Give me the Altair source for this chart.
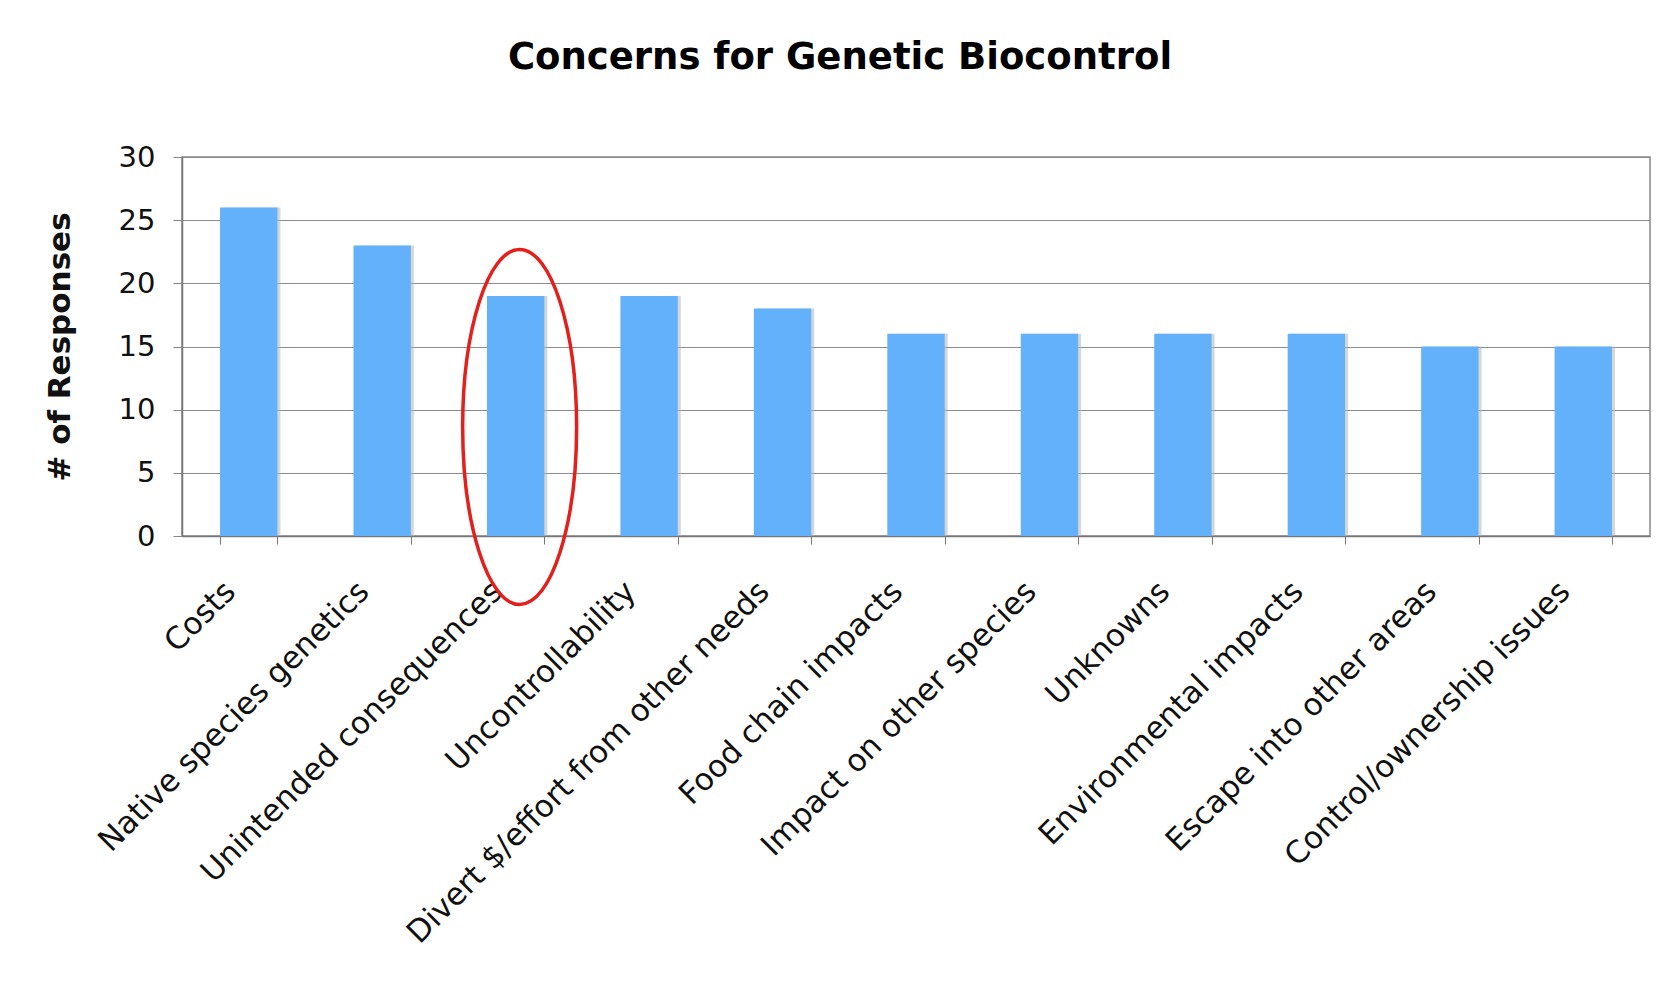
import altair as alt
import pandas as pd

categories = [
    "Costs",
    "Native species genetics",
    "Unintended consequences",
    "Uncontrollability",
    "Divert $/effort from other needs",
    "Food chain impacts",
    "Impact on other species",
    "Unknowns",
    "Environmental impacts",
    "Escape into other areas",
    "Control/ownership issues",
]
responses = [26, 23, 19, 19, 18, 16, 16, 16, 16, 15, 15]
highlighted = ["Unintended consequences"]

df = pd.DataFrame({"concern": categories, "responses": responses})
hl = pd.DataFrame({"concern": highlighted})

W, H = 1468, 379
FONT = "DejaVu Sans"

x_enc = alt.X(
    "concern:N",
    sort=categories,
    scale=alt.Scale(paddingInner=0.57, paddingOuter=0.285),
    axis=alt.Axis(
        title=None,
        labelAngle=-45,
        labelAlign="right",
        labelBaseline="top",
        labelFontSize=31,
        labelFont=FONT,
        labelColor="#111111",
        labelPadding=32,
        labelOffset=-29,
        labelOverlap=False,
        labelLimit=1000,
        tickBand="extent",
        tickSize=8,
        tickColor="#777777",
        domainColor="#777777",
        domainWidth=1.5,
    ),
)

y_enc = alt.Y(
    "responses:Q",
    scale=alt.Scale(domain=[0, 30], nice=False),
    axis=alt.Axis(
        title="# of Responses",
        titleFont=FONT,
        titleFontSize=31,
        titleFontWeight="bold",
        titleColor="#111111",
        titlePadding=42,
        values=[0, 5, 10, 15, 20, 25, 30],
        labelFontSize=29,
        labelFont=FONT,
        labelColor="#111111",
        labelPadding=18,
        tickSize=9,
        tickColor="#888888",
        domainColor="#777777",
        domainWidth=1.5,
        grid=True,
        gridColor="#8c8c8c",
        gridWidth=1,
    ),
)

shadow = alt.Chart(df).mark_bar(color="#b5b5b5", opacity=0.55, xOffset=3).encode(
    x=x_enc, y=y_enc
)
bars = alt.Chart(df).mark_bar(color="#64b1fb").encode(x=x_enc, y=y_enc)

a = 0.321
k = 0.5523
ka = round(k * a, 4)
kk = round(k, 4)
ellipse_path = (
    f"M 0,-1 C {ka},-1 {a},-{kk} {a},0 C {a},{kk} {ka},1 0,1 "
    f"C -{ka},1 -{a},{kk} -{a},0 C -{a},-{kk} -{ka},-1 0,-1 Z"
)
ellipse = alt.Chart(hl).mark_point(
    shape=ellipse_path,
    filled=False,
    stroke="#e3201b",
    strokeWidth=3.5,
    size=126025,
    xOffset=4,
    opacity=1,
).encode(
    x=alt.X("concern:N", sort=categories),
    y=alt.value(270),
)

chart = (
    alt.layer(shadow, bars, ellipse)
    .properties(
        width=W,
        height=H,
        autosize=alt.AutoSizeParams(type="none"),
        padding={"left": 174, "top": 149, "right": 5, "bottom": 440},
        background="#ffffff",
        title=alt.TitleParams(
            "Concerns for Genetic Biocontrol",
            font=FONT,
            fontSize=37,
            fontWeight="bold",
            color="#000000",
            anchor="middle",
            dx=-76,
            offset=66,
        ),
    )
    .configure_view(stroke="#888888", strokeWidth=1.5)
)

chart.save("out.html", embed_options={"renderer": "svg", "actions": False})
